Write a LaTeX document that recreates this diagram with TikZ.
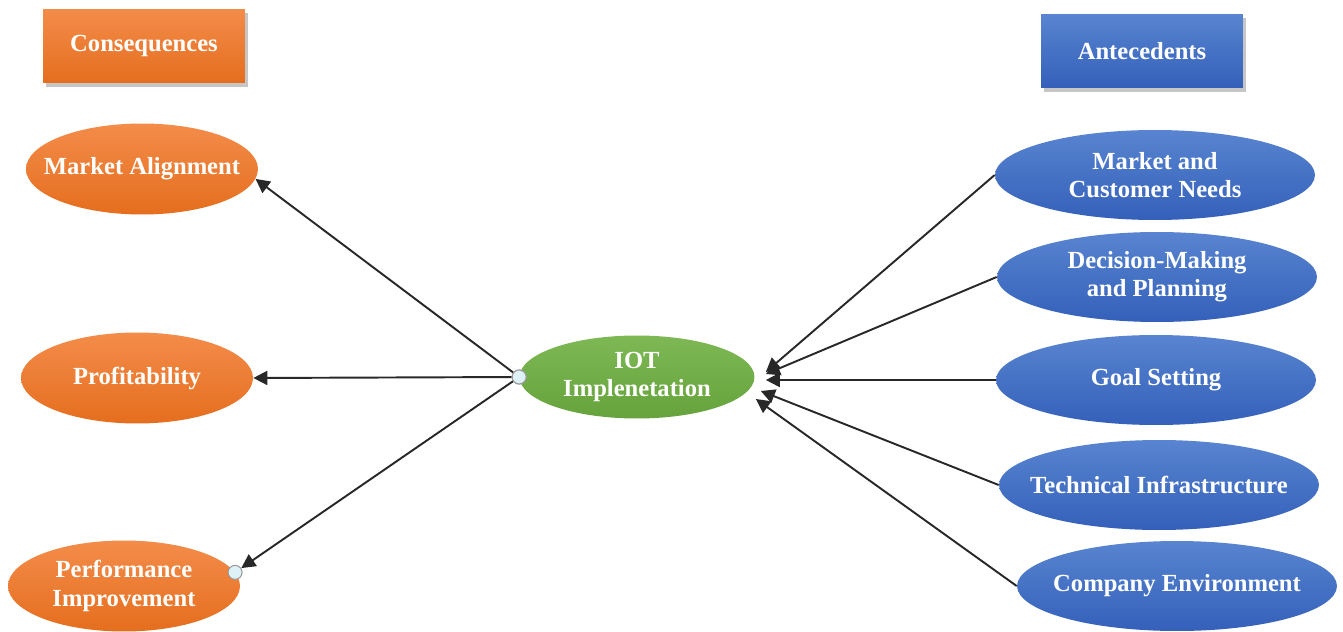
\documentclass[tikz,border=0pt]{standalone}
\usepackage{fontspec}
\setmainfont{Liberation Serif}
\usepackage{tikz}
\usetikzlibrary{arrows.meta, shapes.geometric, shadows}
\definecolor{oraT}{RGB}{243,140,74}
\definecolor{oraB}{RGB}{229,110,30}
\definecolor{bluT}{RGB}{88,132,208}
\definecolor{bluB}{RGB}{52,96,186}
\definecolor{grnT}{RGB}{125,184,84}
\definecolor{grnB}{RGB}{102,163,60}
\definecolor{dotF}{RGB}{222,241,246}
\definecolor{lineC}{RGB}{40,40,40}

\begin{document}
\begin{tikzpicture}[x=0.02cm, y=-0.02cm,
  txt/.style={text=white, font=\fontsize{14}{16}\selectfont\bfseries, align=center, inner xsep=-14pt, inner ysep=0pt},
  headbox/.style={txt, rectangle, inner xsep=0pt, minimum width=4.04cm, minimum height=1.48cm, drop shadow={opacity=0.45, shadow xshift=0.6mm, shadow yshift=-0.8mm}},
  cons/.style={ellipse, txt, minimum width=4.64cm, minimum height=1.82cm, top color=oraT, bottom color=oraB},
  ante/.style={ellipse, txt, minimum width=6.4cm, minimum height=1.8cm, top color=bluT, bottom color=bluB},
  dot/.style={circle, draw=gray!80, fill=dotF, line width=0.6pt, minimum size=0.28cm, inner sep=0pt},
  arr/.style={-{Triangle[length=8pt, width=8pt]}, lineC, line width=1.1pt}]
\useasboundingbox (0,0) rectangle (1343,632);
% header boxes
\node[headbox, top color=oraT, bottom color=oraB] (consbox) at (144,46) {Consequences};
\node[headbox, top color=bluT, bottom color=bluB] (antebox) at (1142,51) {Antecedents};
% consequences
\node[cons] (malign) at (142,169) {Market Alignment};
\node[cons] (profit) at (137,378) {Profitability};
\node[cons] (perf) at (124,586) {Performance\\Improvement};
% centre
\node[ellipse, txt, minimum width=4.7cm, minimum height=1.66cm, top color=grnT, bottom color=grnB] (iot) at (637,377) {IOT\\Implenetation};
% antecedents
\node[ante] (mcn) at (1155,175) {Market and\\Customer Needs};
\node[ante] (dmp) at (1157,277) {Decision-Making\\and Planning};
\node[ante] (goal) at (1156,380) {Goal Setting};
\node[ante] (tech) at (1159,485) {Technical Infrastructure};
\node[ante] (env) at (1177,586) {Company Environment};
% iot -> consequences
\node[dot] (d1) at (iot.west) {};
\node[dot] (d2) at (perf.7) {};
\draw[arr] (d1) -- (malign.-5);
\draw[arr] (d1) -- (profit.east);
\draw[arr] (d1) -- (d2);
\node[dot] at (iot.west) {};
% antecedents -> iot
\draw[arr] (mcn.west) -- ([shift={(11,-5)}]iot.east);
\draw[arr] (dmp.west) -- ([shift={(11,-3)}]iot.east);
\draw[arr] (goal.west) -- ([shift={(11,3)}]iot.east);
\draw[arr] (tech.west) -- ([shift={(6,14)}]iot.east);
\draw[arr] (env.west) -- ([shift={(1,22)}]iot.east);
\end{tikzpicture}
\end{document}
